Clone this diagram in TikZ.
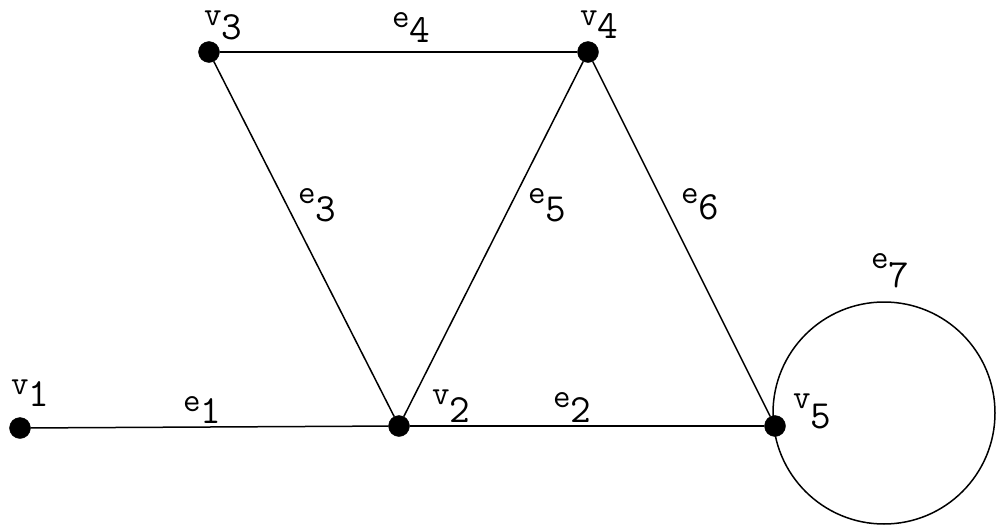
\documentclass[tikz,border=0pt]{standalone}
\newcommand\glab[3]{#1\raisebox{-#3pt}{\fontsize{40}{40}\selectfont #2}}
\begin{document}
\begin{tikzpicture}[x=1pt,y=-1pt,
  vertex/.style={circle,fill=black,draw=black,inner sep=0pt,minimum size=21pt},
  edge/.style={draw=black,line width=1.5pt},
  lbl/.style={anchor=base west,inner sep=0pt,font=\fontsize{34}{34}\selectfont\ttfamily}]
\useasboundingbox (0,0) rectangle (997,525);
\fill[white] (0,0) rectangle (997,525);
% vertices
\node[vertex] (v1) at (20,428) {};
\node[vertex] (v2) at (399,426) {};
\node[vertex] (v3) at (209,52) {};
\node[vertex] (v4) at (588,52) {};
\node[vertex] (v5) at (775,426) {};
\coordinate (lc) at (884,413);
% edges
\draw[edge] (v1) -- (v2);
\draw[edge] (v2) -- (v5);
\draw[edge] (v3) -- (v2);
\draw[edge] (v3) -- (v4);
\draw[edge] (v4) -- (v2);
\draw[edge] (v4) -- (v5);
\draw[edge] (lc) circle[radius=111pt];
% labels
\node[lbl] (lv1) at (11,394) {\glab{v}{1}{12}};
\node[lbl] (le1) at (183,411) {\glab{e}{1}{12}};
\node[lbl] (lv2) at (432,404) {\glab{v}{2}{18}};
\node[lbl] (le2) at (553,407) {\glab{e}{2}{15}};
\node[lbl] (lv3) at (204,25) {\glab{v}{3}{14}};
\node[lbl] (le4) at (392,27) {\glab{e}{4}{15}};
\node[lbl] (lv4) at (580,25) {\glab{v}{4}{13}};
\node[lbl] (le3) at (298,203) {\glab{e}{3}{18}};
\node[lbl] (le5) at (528,203) {\glab{e}{5}{18}};
\node[lbl] (le6) at (681,203) {\glab{e}{6}{16}};
\node[lbl] (lv5) at (793,408) {\glab{v}{5}{20}};
\node[lbl] (le7) at (871,268) {\glab{e}{7}{19}};
\end{tikzpicture}
\end{document}
